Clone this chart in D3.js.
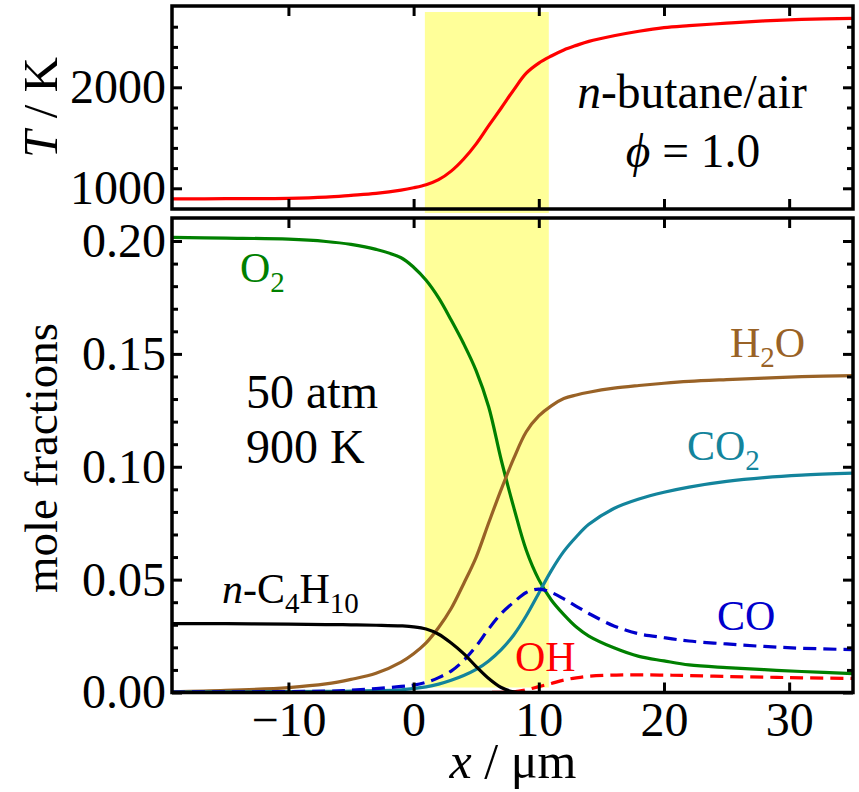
<!DOCTYPE html>
<html>
<head>
<meta charset="utf-8">
<script src="https://cdn.jsdelivr.net/npm/d3@7"></script>
<style>
  body { margin: 0; background: #fff; }
  svg text { font-family: "Liberation Serif", "Times New Roman", serif; }
</style>
</head>
<body>
<div id="chart"></div>
<script>
// positions along the flame, µm
const xs = [-19.3, -15, -10, -7, -5, -3, -1, 0, 1, 2, 3, 4, 5, 6, 7, 8, 9, 10, 11, 12, 13, 14, 16, 18, 20, 22, 25, 28, 31, 35.1];

const temperature = [895, 897, 900, 912, 930, 950, 982, 1005, 1035, 1085, 1170, 1290, 1440, 1620, 1795, 1975, 2140, 2240, 2310, 2370, 2415, 2455, 2510, 2555, 2590, 2610, 2635, 2657, 2672, 2683];

const o2 = [0.2016, 0.2013, 0.2008, 0.1998, 0.1985, 0.1963, 0.1926, 0.1884, 0.1826, 0.1748, 0.165, 0.1545, 0.1425, 0.1265, 0.103, 0.082, 0.063, 0.050, 0.041, 0.0345, 0.029, 0.025, 0.0198, 0.016, 0.014, 0.0122, 0.011, 0.0101, 0.0093, 0.0084];
const h2o = [0.0003, 0.0009, 0.0022, 0.0038, 0.0058, 0.0085, 0.0135, 0.0172, 0.022, 0.0288, 0.0372, 0.0482, 0.060, 0.0752, 0.090, 0.1037, 0.1155, 0.1225, 0.127, 0.1302, 0.1318, 0.133, 0.1348, 0.136, 0.137, 0.1378, 0.1386, 0.1393, 0.1399, 0.1404];
const co2 = [0.0002, 0.0003, 0.0004, 0.0005, 0.0006, 0.0008, 0.0012, 0.0018, 0.0025, 0.0037, 0.0054, 0.0075, 0.0102, 0.014, 0.019, 0.0255, 0.034, 0.044, 0.054, 0.0625, 0.069, 0.0745, 0.0815, 0.0857, 0.0887, 0.091, 0.0935, 0.0952, 0.0963, 0.0972];
const co = [0.0002, 0.0003, 0.0004, 0.0006, 0.001, 0.0017, 0.0027, 0.0033, 0.0045, 0.0066, 0.0095, 0.0142, 0.0205, 0.0282, 0.035, 0.040, 0.0443, 0.0458, 0.0443, 0.0415, 0.0382, 0.035, 0.0295, 0.026, 0.0243, 0.0228, 0.0215, 0.0204, 0.0196, 0.019];
const oh = [0, 0, 0, 0, 0, 0, 0, 0, 0, 0, 0, 0, 0, 0, 0.0001, 0.0003, 0.0012, 0.0026, 0.004, 0.0055, 0.0065, 0.0072, 0.0077, 0.0078, 0.0077, 0.0075, 0.0071, 0.0068, 0.0065, 0.0062];
const c4h10 = [0.0305, 0.0305, 0.0303, 0.0301, 0.03, 0.0298, 0.0295, 0.0291, 0.0281, 0.0258, 0.0219, 0.0172, 0.0115, 0.0062, 0.0022, 0.0003, 0, 0, 0, 0, 0, 0, 0, 0, 0, 0, 0, 0, 0, 0];

// shaded reaction zone, µm
const zone = [0.9, 10.8];

const xTicks = [-10, 0, 10, 20, 30];
const tMajor = [1000, 2000];
const tMinor = [1200, 1400, 1600, 1800, 2200, 2400, 2600];
const fMajor = [0, 0.05, 0.10, 0.15, 0.20];
const fMinor = [0.01, 0.02, 0.03, 0.04, 0.06, 0.07, 0.08, 0.09, 0.11, 0.12, 0.13, 0.14, 0.16, 0.17, 0.18, 0.19];

const species = [
  { name: 'O2', values: o2, color: '#008000', dash: null },
  { name: 'H2O', values: h2o, color: '#996226', dash: null },
  { name: 'CO2', values: co2, color: '#13849c', dash: null },
  { name: 'CO', values: co, color: '#0000cc', dash: '13,7' },
  { name: 'OH', values: oh, color: '#ff0000', dash: '13,7' },
  { name: 'C4H10', values: c4h10, color: '#000000', dash: null }
];

const w = 859, h = 792;
const left = 172, right = 853;
const topP = { y0: 6, y1: 209 };
const botP = { y0: 218, y1: 692.5 };

const svg = d3.select('#chart').append('svg').attr('width', w).attr('height', h);
const defs = svg.append('defs');

const x = d3.scaleLinear().domain([-19.3, 35.1]).range([left, right]);
const yT = d3.scaleLinear().domain([795, 2805]).range([topP.y1, topP.y0]);
const yF = d3.scaleLinear().domain([0, 0.2102]).range([botP.y1, botP.y0]);

// clip paths for the two panels
defs.append('clipPath').attr('id', 'clip-top').append('rect')
  .attr('x', left).attr('y', topP.y0).attr('width', right - left).attr('height', topP.y1 - topP.y0);
defs.append('clipPath').attr('id', 'clip-bot').append('rect')
  .attr('x', left).attr('y', botP.y0).attr('width', right - left).attr('height', botP.y1 - botP.y0);

// yellow band
svg.append('rect')
  .attr('x', x(zone[0])).attr('width', x(zone[1]) - x(zone[0]))
  .attr('y', topP.y0 + 6).attr('height', topP.y1 + 4 - topP.y0 - 6)
  .attr('fill', '#ffff99');
svg.append('rect')
  .attr('x', x(zone[0])).attr('width', x(zone[1]) - x(zone[0]))
  .attr('y', botP.y0).attr('height', botP.y1 - 5 - botP.y0)
  .attr('fill', '#ffff99');

// temperature
let lineT = d3.line().x((d, i) => x(xs[i])).y(d => yT(d)).curve(d3.curveCatmullRom.alpha(0.5));
svg.append('path')
  .attr('clip-path', 'url(#clip-top)')
  .attr('d', lineT(temperature))
  .attr('fill', 'none').attr('stroke', '#ff0000').attr('stroke-width', 3.2);

// species
let lineF = d3.line().x((d, i) => x(xs[i])).y(d => yF(d)).curve(d3.curveCatmullRom.alpha(0.5));
svg.append('g').attr('clip-path', 'url(#clip-bot)')
  .selectAll('path')
  .data(species)
  .enter().append('path')
  .attr('d', d => lineF(d.values))
  .attr('fill', 'none')
  .attr('stroke', d => d.color)
  .attr('stroke-width', 3.2)
  .attr('stroke-dasharray', d => d.dash);

// frames + inward ticks
function frame(y, y0, y1, major, minor, fmt, withX) {
  let g = svg.append('g');
  g.append('g').attr('transform', `translate(${left},0)`)
    .call(d3.axisLeft(y).tickValues(major).tickSize(-10).tickPadding(6).tickFormat(fmt));
  g.append('g').attr('transform', `translate(${left},0)`)
    .call(d3.axisLeft(y).tickValues(minor).tickSize(-6).tickFormat(''));
  g.append('g').attr('transform', `translate(${right},0)`)
    .call(d3.axisRight(y).tickValues(major).tickSize(-10).tickFormat(''));
  g.append('g').attr('transform', `translate(${right},0)`)
    .call(d3.axisRight(y).tickValues(minor).tickSize(-6).tickFormat(''));
  g.append('g').attr('transform', `translate(0,${y0})`)
    .call(d3.axisTop(x).tickValues(xTicks).tickSize(-10).tickFormat(''));
  g.append('g').attr('transform', `translate(0,${y1})`)
    .call(d3.axisBottom(x).tickValues(xTicks).tickSize(-10).tickPadding(9)
      .tickFormat(withX ? d3.format('d') : ''));
  g.selectAll('.domain').remove();
  g.selectAll('.tick line').attr('stroke', '#000').attr('stroke-width', 3);
  g.selectAll('.tick text').attr('font-size', 48).attr('fill', '#000')
    .style('font-family', '"Liberation Serif", serif');
  g.append('rect')
    .attr('x', left).attr('y', y0).attr('width', right - left).attr('height', y1 - y0)
    .attr('fill', 'none').attr('stroke', '#000').attr('stroke-width', 3.5);
}

frame(yT, topP.y0, topP.y1, tMajor, tMinor, d3.format('d'), false);
frame(yF, botP.y0, botP.y1, fMajor, fMinor, d3.format('.2f'), true);

// axis titles
let tl = svg.append('text')
  .attr('transform', `translate(57,${(topP.y0 + topP.y1) / 2}) rotate(-90)`)
  .attr('text-anchor', 'middle').attr('font-size', 49);
tl.append('tspan').attr('font-style', 'italic').text('T');
tl.append('tspan').text(' / K');

svg.append('text')
  .attr('transform', 'translate(57,458) rotate(-90)')
  .attr('text-anchor', 'middle').attr('font-size', 47)
  .text('mole fractions');

let xl = svg.append('text')
  .attr('x', 513).attr('y', 778)
  .attr('text-anchor', 'middle').attr('font-size', 50);
xl.append('tspan').attr('font-style', 'italic').text('x');
xl.append('tspan').text(' / μm');

// annotations
let a1 = svg.append('text').attr('x', 692).attr('y', 108).attr('text-anchor', 'middle').attr('font-size', 47.5);
a1.append('tspan').attr('font-style', 'italic').text('n');
a1.append('tspan').text('-butane/air');
let a2 = svg.append('text').attr('x', 693).attr('y', 167).attr('text-anchor', 'middle').attr('font-size', 47.5);
a2.append('tspan').attr('font-style', 'italic').text('ϕ');
a2.append('tspan').text(' = 1.0');

svg.append('text').attr('x', 246).attr('y', 408).attr('font-size', 48).text('50 atm');
svg.append('text').attr('x', 246).attr('y', 463).attr('font-size', 48).text('900 K');

// species labels: parts are [text, isSub, isItalic]
function label(px, py, color, parts) {
  let t = svg.append('text').attr('x', px).attr('y', py).attr('font-size', 42).attr('fill', color);
  let shifted = false;
  parts.forEach(p => {
    let s = t.append('tspan').text(p[0]);
    if (p[1] && !shifted) { s.attr('dy', 10).attr('font-size', 29); shifted = true; }
    else if (p[1]) { s.attr('font-size', 29); }
    else if (shifted) { s.attr('dy', -10); shifted = false; }
    if (p[2]) s.attr('font-style', 'italic');
  });
}

label(240, 282, '#008000', [['O'], ['2', true]]);
label(730, 357, '#996226', [['H'], ['2', true], ['O']]);
label(687, 460, '#13849c', [['CO'], ['2', true]]);
label(717, 630, '#0000cc', [['CO']]);
label(515, 671, '#ff0000', [['OH']]);
label(222, 603, '#000000', [['n', false, true], ['-C'], ['4', true], ['H'], ['10', true]]);
</script>
</body>
</html>
